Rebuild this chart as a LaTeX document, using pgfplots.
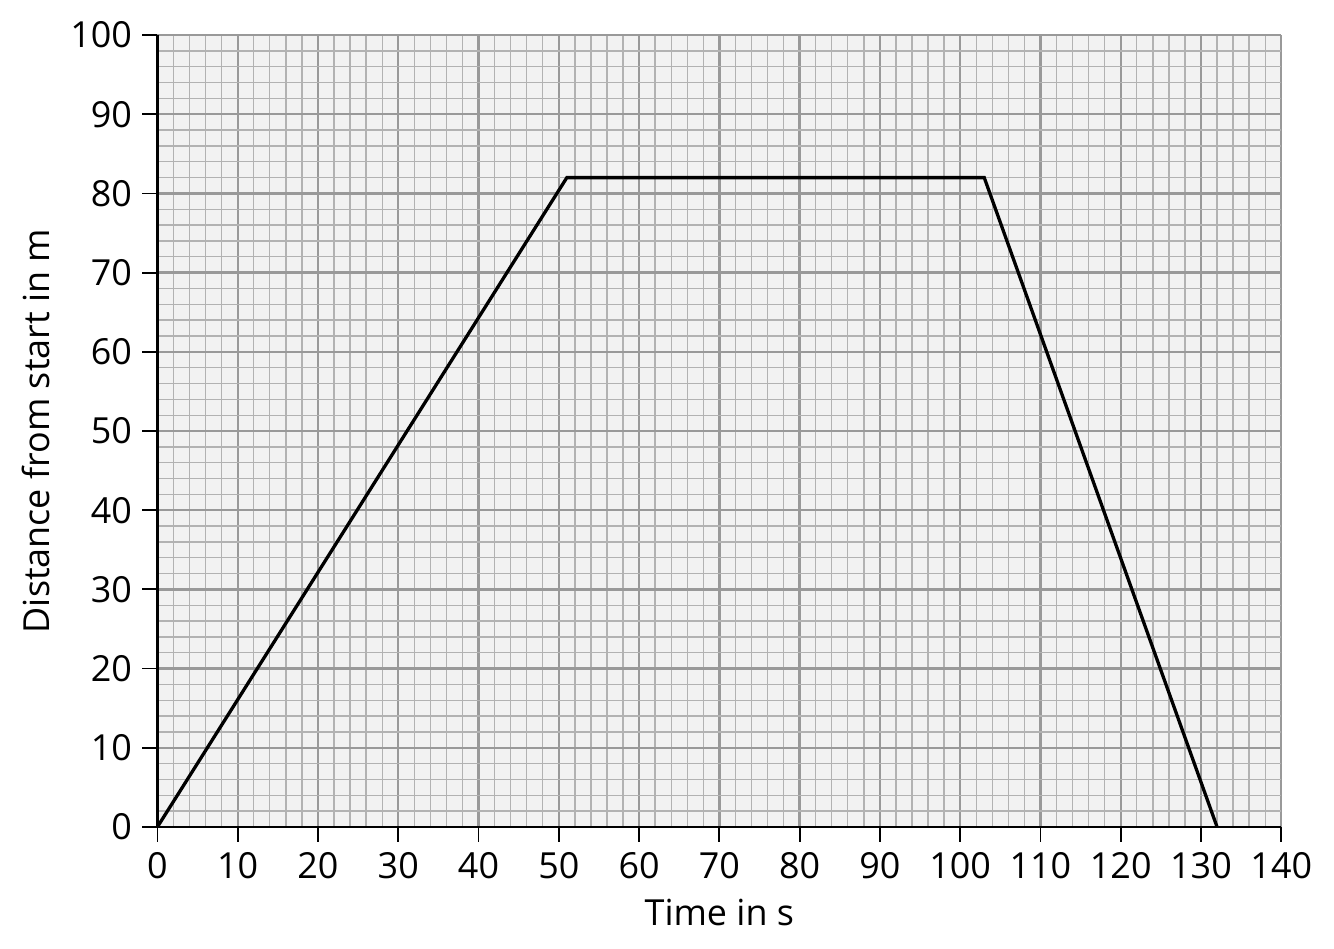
\documentclass[border=4pt]{standalone}
\usepackage{pgfplots}
\pgfplotsset{compat=1.18}
\usepackage{fontspec}
\setmainfont{Open Sans}

\begin{document}
\begin{tikzpicture}
\begin{axis}[
  scale only axis, width=13.2cm, height=9.3cm,
  xmin=0, xmax=140, ymin=0, ymax=100,
  xtick={0,10,...,140}, ytick={0,10,...,100},
  minor tick num=4, minor tick length=0pt,
  grid=both,
  major grid style={gray!80, line width=0.8pt},
  minor grid style={gray!60, line width=0.45pt},
  axis lines*=left, axis line style={black, line width=0.9pt, -},
  tick align=outside, major tick length=5pt, tick style={black, line width=0.6pt},
  axis background/.style={fill=black!5},
  xlabel={Time in s}, ylabel={Distance from start in m},
  label style={font=\large}, tick label style={font=\large},
  /pgf/number format/assume math mode=true,
  clip=false,
]
\addplot[black, line width=1.1pt] coordinates {(0,0)(51,82)(103,82)(132,0)};
\end{axis}
\end{tikzpicture}
\end{document}
